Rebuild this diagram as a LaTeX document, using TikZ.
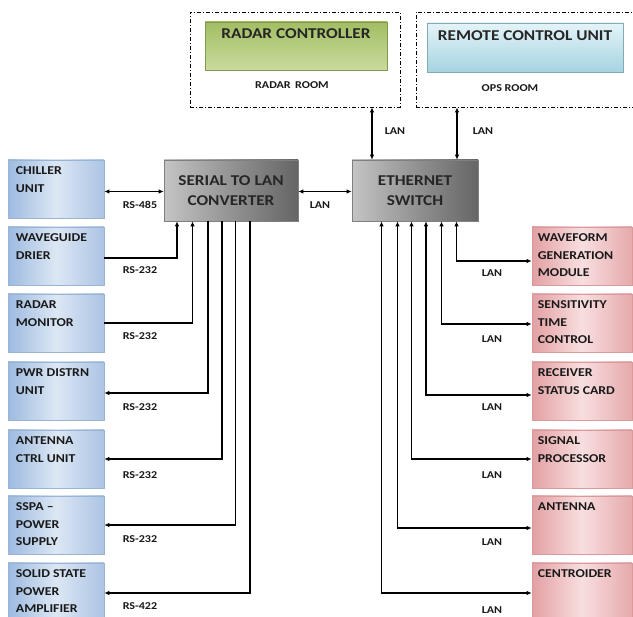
\documentclass[tikz,border=0pt]{standalone}
\usepackage{fontspec}
\setmainfont[FakeStretch=1.15]{Carlito}
\usetikzlibrary{arrows.meta}

\definecolor{bluedk}{HTML}{9DBADF}
\definecolor{bluelt}{HTML}{DCE7F4}
\definecolor{bluerim}{HTML}{9AB4D6}
\definecolor{pinkdk}{HTML}{E3A0A3}
\definecolor{pinklt}{HTML}{F8DEDF}
\definecolor{pinkrim}{HTML}{D89A9B}
\definecolor{greydk}{HTML}{656565}
\definecolor{greylt}{HTML}{C4C4C4}
\definecolor{greenbox}{HTML}{A2BE63}
\definecolor{greenlt}{HTML}{C9DB9E}
\definecolor{cyanbox}{HTML}{A5D4E1}
\definecolor{cyanlt}{HTML}{E4F4F8}

\begin{document}
\begin{tikzpicture}[x=1pt,y=-1pt,
	lbox/.style={rectangle, draw=bluerim, line width=0.6pt, minimum width=96pt, minimum height=58pt,
		left color=bluedk, right color=bluedk!85, middle color=bluelt},
	rbox/.style={rectangle, draw=pinkrim, line width=0.6pt, minimum width=100pt, minimum height=58pt,
		left color=pinkdk, right color=pinkdk!90, middle color=pinklt},
	gbox/.style={rectangle, draw=gray, line width=0.6pt, minimum height=61pt,
		left color=greylt, right color=greydk, middle color=gray!85},
	room/.style={rectangle, draw=black, line width=0.8pt, dash pattern=on 4pt off 2pt on 1pt off 2pt},
	btext/.style={anchor=north west, align=left, inner sep=0pt, font=\fontsize{12}{17.5}\selectfont\bfseries, text=black!90},
	ctext/.style={align=center, inner sep=0pt, font=\fontsize{15}{20.5}\selectfont\bfseries, text=black!85},
	ttext/.style={anchor=north, inner sep=0pt, font=\fontsize{15}{18}\selectfont\bfseries, text=black!85},
	lab/.style={inner sep=0pt, font=\fontsize{10.5}{12}\selectfont\bfseries, text=black!90},
	arr/.style={line width=1.1pt, -{Latex[length=5pt,width=4.5pt]}},
	darr/.style={line width=1.1pt, {Latex[length=5pt,width=4.5pt]}-{Latex[length=5pt,width=4.5pt]}}]
	\clip (0,0) rectangle (633,617);
	\useasboundingbox (0,0) rectangle (633,617);
	\fill[white] (0,0) rectangle (633,617);

	% rooms on top
	\node[room, minimum width=210pt, minimum height=95pt] (rroom) at (295,59.5) {};
	\node[room, minimum width=230pt, minimum height=95pt] (oroom) at (531,59.5) {};
	\node[rectangle, draw=greenbox!80!black, line width=0.6pt, minimum width=182pt, minimum height=48pt,
		top color=greenbox, bottom color=greenlt] (rctl) at (296,46) {};
	\node[rectangle, draw=cyanbox!80!black, line width=0.6pt, minimum width=196pt, minimum height=49pt,
		top color=cyanlt, bottom color=cyanbox] (rcu) at (525,47.5) {};
	\node[ttext] (rctltxt) at ([yshift=-7pt]rctl.north) {RADAR CONTROLLER};
	\node[ttext] (rcutxt) at ([yshift=-8pt]rcu.north) {REMOTE CONTROL UNIT};
	\node[lab] (rroomtxt) at (292,85) {RADAR\, ROOM};
	\node[lab] (oroomtxt) at (510,88) {OPS ROOM};

	% converter and switch
	\node[gbox, minimum width=134pt] (conv) at (231,190.5) {};
	\node[ctext] at (conv) {SERIAL TO LAN\\CONVERTER};
	\node[gbox, minimum width=126pt] (sw) at (415,190.5) {};
	\node[ctext] at (sw) {ETHERNET\\SWITCH};

	% serial units
	\node[lbox] (chill) at (56,189) {};
	\node[lbox] (wgd) at (56,256) {};
	\node[lbox] (rmon) at (56,323) {};
	\node[lbox] (pdu) at (56,391) {};
	\node[lbox] (acu) at (56,459) {};
	\node[lbox] (sspa) at (56,525) {};
	\node[lbox] (sspamp) at (56,592) {};
	\node[btext] (chilltxt) at ([shift={(8,7)}]chill.north west) {CHILLER\\UNIT};
	\node[btext] (wgdtxt) at ([shift={(8,7)}]wgd.north west) {WAVEGUIDE\\DRIER};
	\node[btext] (rmontxt) at ([shift={(8,7)}]rmon.north west) {RADAR\\MONITOR};
	\node[btext] (pdutxt) at ([shift={(8,7)}]pdu.north west) {PWR DISTRN\\UNIT};
	\node[btext] (acutxt) at ([shift={(8,7)}]acu.north west) {ANTENNA\\CTRL UNIT};
	\node[btext] (sspatxt) at ([shift={(8,7)}]sspa.north west) {SSPA --\\POWER\\SUPPLY};
	\node[btext] (sspamptxt) at ([shift={(8,7)}]sspamp.north west) {SOLID STATE\\POWER\\AMPLIFIER};

	% lan units
	\node[rbox] (wgm) at (582,256) {};
	\node[rbox] (stc) at (582,323) {};
	\node[rbox] (rsc) at (582,391) {};
	\node[rbox] (sp) at (582,459) {};
	\node[rbox] (ant) at (582,525) {};
	\node[rbox] (cent) at (582,592) {};
	\node[btext] (wgmtxt) at ([shift={(6,7)}]wgm.north west) {WAVEFORM\\GENERATION\\MODULE};
	\node[btext] (stctxt) at ([shift={(6,7)}]stc.north west) {SENSITIVITY\\TIME\\CONTROL};
	\node[btext] (rsctxt) at ([shift={(6,7)}]rsc.north west) {RECEIVER\\STATUS CARD};
	\node[btext] (sptxt) at ([shift={(6,7)}]sp.north west) {SIGNAL\\PROCESSOR};
	\node[btext] (anttxt) at ([shift={(6,7)}]ant.north west) {ANTENNA};
	\node[btext] (centtxt) at ([shift={(6,7)}]cent.north west) {CENTROIDER};

	% links up to the rooms
	\draw[darr] ([xshift=-43pt]sw.north) -- ([xshift=-43pt]sw.north |- rroom.south);
	\draw[darr] ([xshift=42pt]sw.north) -- ([xshift=42pt]sw.north |- oroom.south);
	\node[lab] (lanr) at (395,131.5) {LAN};
	\node[lab] (lano) at (483,131.5) {LAN};
	\draw[darr] (conv.east |- 0,191.5) -- (sw.west |- 0,191.5);
	\node[lab] (lanc) at (320,205) {LAN};

	% serial lines
	\draw[darr] (chill.east |- 0,191.5) -- (conv.west |- 0,191.5);
	\draw[arr] ([yshift=-2pt]wgd.east) -| ([xshift=-54pt]conv.south);
	\draw[arr] (rmon.east) -| ([xshift=-38.5pt]conv.south);
	\draw[arr] ([xshift=-23pt]conv.south) |- ([yshift=-2pt]pdu.east);
	\draw[arr] ([xshift=-9pt]conv.south) |- (acu.east);
	\draw[arr] ([xshift=4.5pt]conv.south) |- (sspa.east);
	\draw[arr] ([xshift=19pt]conv.south) |- ([yshift=-1pt]sspamp.east);
	\node[lab] (rs1) at (140,205) {RS-485};
	\node[lab] (rs2) at (140,270) {RS-232};
	\node[lab] (rs3) at (140,336) {RS-232};
	\node[lab] (rs4) at (140,407) {RS-232};
	\node[lab] (rs5) at (140,475) {RS-232};
	\node[lab] (rs6) at (140,539) {RS-232};
	\node[lab] (rs7) at (140,606) {RS-422};

	% lan lines
	\draw[darr] ([xshift=41.5pt]sw.south) |- ([yshift=-5pt]wgm.west);
	\draw[darr] ([xshift=26.5pt]sw.south) |- ([yshift=-1pt]stc.west);
	\draw[darr] ([xshift=11pt]sw.south) |- ([yshift=-4pt]rsc.west);
	\draw[darr] ([xshift=-3.5pt]sw.south) |- (sp.west);
	\draw[darr] ([xshift=-17.5pt]sw.south) |- ([yshift=-3pt]ant.west);
	\draw[darr] ([xshift=-33.5pt]sw.south) |- ([yshift=-1pt]cent.west);
	\node[lab] (lan1) at (492,273) {LAN};
	\node[lab] (lan2) at (492,339) {LAN};
	\node[lab] (lan3) at (492,407) {LAN};
	\node[lab] (lan4) at (492,475) {LAN};
	\node[lab] (lan5) at (492,542.5) {LAN};
	\node[lab] (lan6) at (492,610) {LAN};
\end{tikzpicture}
\end{document}
